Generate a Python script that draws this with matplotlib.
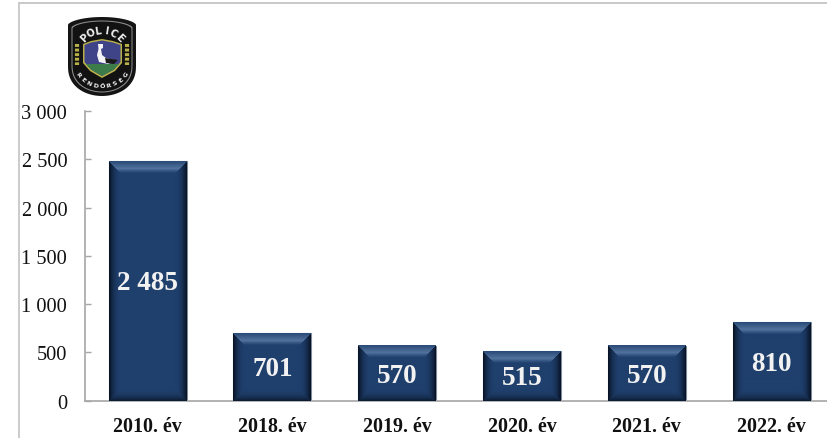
import numpy as np
import matplotlib
matplotlib.use("Agg")
import matplotlib.pyplot as plt
from matplotlib.lines import Line2D
from matplotlib.patches import Polygon
from matplotlib.transforms import Affine2D

categories = ["2010. év", "2018. év", "2019. év", "2020. év", "2021. év", "2022. év"]
values = [2485, 701, 570, 515, 570, 810]
value_labels = ["2 485", "701", "570", "515", "570", "810"]
y_ticks = [0, 500, 1000, 1500, 2000, 2500, 3000]
y_tick_labels = ["0", "500", "1 000", "1 500", "2 000", "2 500", "3 000"]

W, H = 827, 439
plt.rcParams["font.family"] = ["Liberation Serif", "DejaVu Serif"]
fig = plt.figure(figsize=(W / 100, H / 100), dpi=100, facecolor="white")
ax = fig.add_axes([85.2 / W, (H - 401.7) / H, 748.8 / W, 289.7 / H])
ax.set_xlim(-0.5, 5.5)
ax.set_ylim(0, 3000)

BAR_W = 0.625
BASE = np.array([0x1F, 0x3F, 0x6C]) / 255
LIGHT = np.array([0x50, 0x72, 0x9C]) / 255
DARK = np.array([0x06, 0x10, 0x20]) / 255


def bevel_image(w, h, depth=12):
    yy, xx = np.mgrid[0:h, 0:w] + 0.5
    dt, db, dl, dr = yy, h - yy, xx, w - xx
    stack = np.stack([dt, db, dl, dr])
    side = stack.argmin(axis=0)
    d = stack.min(axis=0)
    t = np.clip(d / depth, 0, 1)
    img = np.ones((h, w, 3)) * BASE
    top_amt = np.where(t < 0.62, 0.2 + 0.8 * t / 0.62, np.clip((1 - t) / 0.38, 0, 1))
    dark_amt = np.clip(1 - t, 0, 1) ** 2.2
    for i in range(3):
        c = img[..., i]
        c[side == 0] = (BASE[i] + (LIGHT[i] - BASE[i]) * top_amt)[side == 0]
        c[side == 1] = (BASE[i] + (DARK[i] - BASE[i]) * 0.8 * dark_amt)[side == 1]
        c[side >= 2] = (BASE[i] + (DARK[i] - BASE[i]) * dark_amt)[side >= 2]
    return img


bars = ax.bar(range(len(values)), values, width=BAR_W, color="#1F3F6C",
              edgecolor="#7F8C9C", linewidth=0.8, zorder=2)
px_per_x = 748.8 / 6
px_per_y = 289.7 / 3000
for i, (b, v) in enumerate(zip(bars, values)):
    w = int(round(BAR_W * px_per_x))
    h = int(round(v * px_per_y))
    ax.imshow(bevel_image(w, h), extent=(i - BAR_W / 2, i + BAR_W / 2, 0, v),
              aspect="auto", interpolation="bilinear", zorder=3)
    ax.text(i, v / 2 - 20, value_labels[i], ha="center", va="center", color="#F2F2F2",
            fontsize=19.5, fontweight="bold", zorder=5)
ax.set_xlim(-0.5, 5.5)
ax.set_ylim(0, 3000)

for s in ("top", "right"):
    ax.spines[s].set_visible(False)
for s in ("left", "bottom"):
    ax.spines[s].set_color("#A6A6A6")
    ax.spines[s].set_linewidth(1.2)
ax.set_yticks(y_ticks, y_tick_labels, fontsize=14.7, color="#111111")
ax.tick_params(axis="y", direction="in", length=4.5, width=1, color="#A6A6A6", pad=13)
ax.set_xticks(range(len(categories)), categories, fontsize=14.4, fontweight="bold", color="#111111")
ax.tick_params(axis="x", length=0, pad=11)

# outer frame
fig.add_artist(Line2D([18.5 / W, 18.5 / W], [0, 1 - 3.5 / H], color="#BDBDBD", lw=1.1))
fig.add_artist(Line2D([18.5 / W, 1], [1 - 3.5 / H, 1 - 3.5 / H], color="#C8C8C8", lw=1.4))

# badge, in figure pixel coordinates (y downwards)
px = Affine2D().scale(1 / W, -1 / H).translate(0, 1) + fig.transFigure


def shield(cx, top, bottom, hw):
    t = np.linspace(0, np.pi, 40)
    ymid = top + (bottom - top) * 0.62
    lower = [(cx + hw * np.cos(a), ymid + (bottom - ymid) * np.sin(a) ** 0.85) for a in t]
    t2 = np.linspace(np.pi, 0, 30)
    upper = [(cx + hw * np.cos(a),
              top + (bottom - top) * 0.10 - (bottom - top) * 0.10 * np.sin(a) ** 1.2) for a in t2]
    return lower + upper


def add_poly(points, color, z=6):
    fig.add_artist(Polygon(points, closed=True, transform=px, facecolor=color,
                           edgecolor="none", zorder=z))


CX = 102
add_poly(shield(CX, 18, 97, 34), "#141414", 6)
add_poly(shield(CX, 21.5, 93.5, 30.5), "#8E8E8E", 7)
add_poly(shield(CX, 22.5, 92.5, 29.5), "#121212", 8)
add_poly([(83, 45), (91, 42), (102, 40), (113, 42), (122, 45), (122, 64),
          (115, 72), (102, 79), (90, 72), (83, 64)], "#B9B04A", 9)
add_poly([(84.5, 46), (91, 43.5), (102, 41.5), (113, 43.5), (120.5, 46), (120.5, 63),
          (114, 70.5), (102, 77), (91, 70.5), (84.5, 63)], "#3F4488", 10)
add_poly([(86, 65), (119, 65), (114, 70.5), (102, 77), (91, 70.5)], "#3C7C4A", 11)
# stork
add_poly([(98, 45), (103, 45), (103, 49), (101, 50), (102, 56), (106, 59), (117, 62),
          (108, 65), (99, 63), (97, 56), (98.5, 50)], "#F4F4F4", 12)
add_poly([(105, 59), (118, 61), (114, 65), (106, 64)], "#1A1A1A", 13)


def arc_text(s, cx, cy, r, a0, a1, fs, upper=True, color="#EDEDED"):
    angs = np.linspace(a0, a1, len(s))
    for ch, a in zip(s, angs):
        x, y = cx + r * np.cos(np.radians(a)), cy - r * np.sin(np.radians(a))
        rot = a - 90 if upper else a + 90
        fig.text(x / W, 1 - y / H, ch, ha="center", va="center", rotation=rot,
                 rotation_mode="anchor", fontsize=fs, fontweight="bold", color=color,
                 family=["DejaVu Sans"], zorder=14)


arc_text("POLICE", CX, 56, 25, 135, 45, 7.2)
arc_text("RENDŐRSÉG", CX, 57, 30, 218, 322, 4.6, upper=False)
# blurred side lettering
for x0 in (CX - 25.5, CX + 25.5):
    fig.add_artist(Line2D([x0 / W] * 2, [1 - 45 / H, 1 - 66 / H], color="#B9B04A", lw=3,
                          ls=(0, (0.7, 0.4)), zorder=14))

fig.savefig("out.png", dpi=100)
